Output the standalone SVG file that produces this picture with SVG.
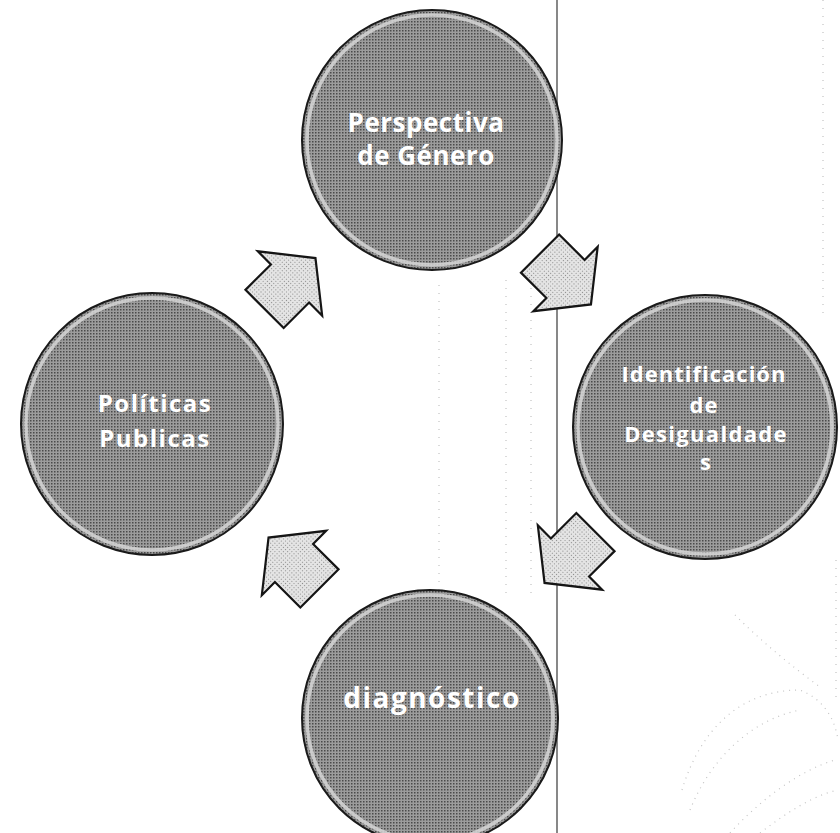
<svg xmlns="http://www.w3.org/2000/svg" width="840" height="833" viewBox="0 0 840 833">
<defs>
<style>
.circ{fill:url(#halftone);stroke:#1a1a1a;stroke-width:2}
.rim{fill:none;stroke:#d6d6d6;stroke-width:3.5;opacity:0.85}
.arr{fill:url(#lightdots);stroke:#151515;stroke-width:2.2;stroke-linejoin:miter}
.lbl{font-family:"Open Sans","DejaVu Sans",sans-serif;font-weight:bold;fill:#ffffff;text-anchor:middle}
.faint{stroke:#b5b5b5;stroke-width:1;stroke-dasharray:1 7;fill:none}
.deco{stroke:#c4c4c4;stroke-width:1.2;stroke-dasharray:1 5;fill:none}
</style>
<pattern id="halftone" width="3" height="3" patternUnits="userSpaceOnUse">
<rect width="3" height="3" fill="#9c9c9c"/>
<rect width="1.5" height="1.5" fill="#4a4a4a"/>
</pattern>
<pattern id="lightdots" width="3" height="3" patternUnits="userSpaceOnUse">
<rect width="3" height="3" fill="#e4e4e4"/>
<rect width="1" height="1" fill="#8c8c8c"/>
</pattern>
<polygon id="arrowShape" points="-36,-27 0,-27 0,-45.5 36,0 0,45.5 0,27 -36,27"/>
</defs>
<rect width="840" height="833" fill="#ffffff"/>
<g id="background">
<line class="faint" x1="439" y1="285" x2="439" y2="600"/>
<line class="faint" x1="506" y1="280" x2="506" y2="600"/>
<line class="faint" x1="531" y1="280" x2="531" y2="600"/>
<line class="faint" x1="823" y1="0" x2="823" y2="320"/>
<line class="faint" x1="836" y1="560" x2="836" y2="700"/>
<path class="deco" d="M735,615 C760,640 790,665 820,687"/>
<path class="deco" d="M682,790 C700,730 740,690 800,690 C825,700 835,720 838,740"/>
<path class="deco" d="M690,810 C710,760 750,720 800,710"/>
<path class="deco" d="M730,833 C760,800 800,770 835,760"/>
<path class="deco" d="M760,833 C790,810 815,795 838,790"/>
<line x1="557" y1="0" x2="557" y2="833" stroke="#6a6a6a" stroke-width="1.6"/>
</g>
<g id="connectors">
<use href="#arrowShape" class="arr" transform="translate(565.5,279) rotate(45)"/>
<use href="#arrowShape" class="arr" transform="translate(570,557.5) rotate(135)"/>
<use href="#arrowShape" class="arr" transform="translate(294,563) rotate(225)"/>
<use href="#arrowShape" class="arr" transform="translate(290,283.5) rotate(-45)"/>
</g>
<g id="node-perspectiva">
<circle class="circ" cx="432" cy="140" r="130"/>
<circle class="rim" cx="432" cy="140" r="125"/>
<text class="lbl" x="426" y="132" font-size="26" letter-spacing="0.5">Perspectiva</text>
<text class="lbl" x="426" y="165" font-size="26" letter-spacing="0.5">de Género</text>
</g>
<g id="node-identificacion">
<circle class="circ" cx="705" cy="427" r="132"/>
<circle class="rim" cx="705" cy="427" r="127"/>
<text class="lbl" x="704" y="382" font-size="22" letter-spacing="1">Identificación</text>
<text class="lbl" x="704" y="413" font-size="22" letter-spacing="1">de</text>
<text class="lbl" x="706" y="442" font-size="22" letter-spacing="1.3">Desigualdade</text>
<text class="lbl" x="706" y="470" font-size="22" letter-spacing="1">s</text>
</g>
<g id="node-diagnostico">
<circle class="circ" cx="430" cy="718" r="128"/>
<circle class="rim" cx="430" cy="718" r="123"/>
<text class="lbl" x="432" y="708" font-size="28" letter-spacing="1.5">diagnóstico</text>
</g>
<g id="node-politicas">
<circle class="circ" cx="152" cy="424" r="131"/>
<circle class="rim" cx="152" cy="424" r="126"/>
<text class="lbl" x="155" y="412" font-size="24" letter-spacing="1.5">Políticas</text>
<text class="lbl" x="155" y="447" font-size="24" letter-spacing="1.5">Publicas</text>
</g>
</svg>
